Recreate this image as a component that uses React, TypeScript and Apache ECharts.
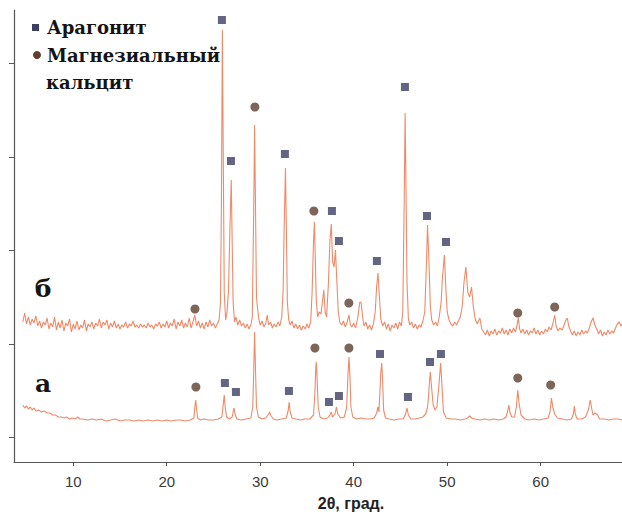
import React, { useEffect, useRef } from "react";
import * as echarts from "echarts";

// ---- data (2θ in degrees, intensity in arbitrary units) ----
const xTicks = [10, 20, 30, 40, 50, 60];
const yTicks = [25, 118, 212, 305, 399];

// pattern "б" (upper trace)
const traceB: [number, number][] = [
  [4.6, 140], [4.8, 149], [5.0, 138], [5.2, 145], [5.4, 137], [5.6, 143], [5.8, 139], [6.0, 146], [6.2, 136], [6.4, 141],
  [6.6, 134], [6.8, 140], [7.0, 137], [7.2, 144], [7.4, 133], [7.6, 139], [7.8, 135], [8.0, 145], [8.2, 132], [8.4, 140],
  [8.6, 134], [8.8, 142], [9.0, 131], [9.2, 139], [9.4, 136], [9.6, 143], [9.8, 130], [10.0, 138], [10.2, 133], [10.4, 141],
  [10.6, 132], [10.8, 137], [11.0, 134], [11.2, 142], [11.4, 131], [11.6, 138], [11.8, 135], [12.0, 140], [12.2, 133], [12.4, 139],
  [12.6, 136], [12.8, 143], [13.0, 134], [13.2, 140], [13.4, 137], [13.6, 142], [13.8, 133], [14.0, 139], [14.2, 135], [14.4, 141],
  [14.6, 134], [14.8, 138], [15.0, 133], [15.2, 137], [15.4, 135], [15.6, 140], [15.8, 134], [16.0, 138], [16.2, 136], [16.4, 141],
  [16.6, 135], [16.8, 137], [17.0, 134], [17.2, 138], [17.4, 135], [17.6, 137], [17.8, 134], [18.0, 139], [18.2, 135], [18.4, 137],
  [18.6, 133], [18.8, 138], [19.0, 136], [19.2, 140], [19.4, 134], [19.6, 138], [19.8, 135], [20.0, 141], [20.2, 134], [20.4, 139],
  [20.6, 136], [20.8, 143], [21.0, 133], [21.2, 140], [21.4, 136], [21.6, 142], [21.8, 134], [22.0, 139], [22.2, 135], [22.4, 144],
  [22.6, 134], [22.8, 140], [23.0, 147], [23.2, 136], [23.4, 141], [23.6, 134], [23.8, 139], [24.0, 133], [24.2, 140], [24.4, 135],
  [24.6, 142], [24.8, 136], [25.0, 139], [25.2, 134], [25.4, 138], [25.6, 142],
  [25.75, 160], [25.85, 260], [25.95, 432], [26.05, 300], [26.15, 170], [26.3, 142], [26.45, 150], [26.6, 170], [26.75, 230], [26.9, 282],
  [27.0, 220], [27.1, 160], [27.25, 140], [27.4, 145], [27.6, 137], [27.8, 142], [28.0, 136], [28.2, 139], [28.4, 134], [28.6, 138],
  [28.8, 133], [29.0, 137], [29.15, 145], [29.3, 250], [29.4, 337], [29.5, 250], [29.6, 165], [29.7, 155], [29.85, 143], [30.0, 137],
  [30.2, 141], [30.4, 135], [30.6, 139], [30.75, 147], [30.9, 137], [31.1, 140], [31.3, 134], [31.5, 138], [31.7, 135], [31.9, 140],
  [32.1, 136], [32.3, 145], [32.45, 172], [32.55, 230], [32.7, 294], [32.8, 230], [32.9, 160], [33.05, 142], [33.2, 137], [33.4, 141],
  [33.6, 134], [33.8, 138], [34.0, 133], [34.2, 137], [34.4, 132], [34.6, 136], [34.8, 133], [35.0, 138], [35.2, 134], [35.4, 140],
  [35.55, 170], [35.7, 220], [35.8, 240], [35.9, 200], [36.0, 160], [36.15, 145], [36.3, 150], [36.5, 148], [36.65, 160], [36.8, 172],
  [36.95, 150], [37.1, 145], [37.3, 180], [37.45, 220], [37.6, 238], [37.75, 200], [37.9, 195], [38.05, 212], [38.2, 180], [38.35, 150],
  [38.5, 140], [38.7, 137], [38.9, 141], [39.1, 135], [39.3, 140], [39.5, 147], [39.65, 137], [39.8, 135], [40.0, 139], [40.2, 134],
  [40.45, 145], [40.65, 160], [40.8, 159], [40.95, 145], [41.1, 136], [41.3, 140], [41.5, 133], [41.7, 137], [41.9, 132], [42.1, 138],
  [42.3, 150], [42.45, 175], [42.6, 189], [42.75, 165], [42.9, 143], [43.1, 136], [43.3, 140], [43.5, 133], [43.7, 138], [43.9, 131],
  [44.1, 137], [44.3, 134], [44.5, 139], [44.7, 133], [44.9, 140], [45.1, 136], [45.25, 150], [45.4, 260], [45.5, 349], [45.6, 270],
  [45.7, 180], [45.85, 143], [46.0, 137], [46.2, 140], [46.4, 134], [46.6, 138], [46.8, 133], [47.0, 137], [47.2, 135], [47.4, 141],
  [47.6, 150], [47.75, 190], [47.9, 237], [48.05, 200], [48.2, 155], [48.35, 142], [48.55, 137], [48.75, 140], [48.95, 136], [49.15, 145],
  [49.35, 160], [49.5, 185], [49.7, 207], [49.85, 175], [50.0, 150], [50.2, 142], [50.4, 138], [50.6, 136], [50.8, 140], [51.0, 137],
  [51.2, 141], [51.4, 145], [51.6, 155], [51.8, 180], [52.0, 195], [52.2, 170], [52.4, 165], [52.6, 175], [52.8, 155], [53.0, 143],
  [53.2, 138], [53.5, 144], [53.7, 133], [53.9, 130], [54.1, 127], [54.3, 132], [54.5, 126], [54.7, 131], [54.9, 128], [55.1, 133],
  [55.3, 127], [55.5, 131], [55.7, 129], [55.9, 134], [56.1, 128], [56.3, 132], [56.5, 127], [56.7, 133], [56.9, 129], [57.1, 134],
  [57.3, 130], [57.45, 136], [57.6, 144], [57.75, 133], [57.9, 129], [58.1, 133], [58.3, 128], [58.5, 132], [58.7, 127], [58.9, 131],
  [59.1, 129], [59.3, 134], [59.5, 128], [59.7, 132], [59.9, 127], [60.1, 131], [60.3, 128], [60.5, 133], [60.7, 130], [60.9, 135],
  [61.1, 132], [61.3, 138], [61.5, 147], [61.65, 136], [61.85, 131], [62.05, 134], [62.3, 132], [62.5, 137], [62.7, 142], [62.85, 144],
  [63.0, 136], [63.2, 131], [63.4, 127], [63.6, 131], [63.8, 126], [64.0, 130], [64.2, 127], [64.4, 132], [64.6, 128], [64.8, 131],
  [65.0, 129], [65.2, 134], [65.4, 140], [65.6, 144], [65.8, 137], [66.0, 133], [66.2, 128], [66.4, 132], [66.6, 126], [66.8, 130],
  [67.0, 127], [67.2, 132], [67.4, 128], [67.6, 131], [67.8, 129], [68.0, 134], [68.2, 138], [68.4, 140], [68.6, 136], [68.7, 138],
];

// pattern "а" (lower trace)
const traceA: [number, number][] = [
  [4.6, 57], [4.8, 54], [5.0, 56], [5.2, 53], [5.4, 55], [5.6, 52], [5.8, 54], [6.0, 51], [6.3, 52], [6.6, 50],
  [6.9, 51], [7.2, 49], [7.5, 49], [7.8, 47], [8.1, 47], [8.4, 45], [8.7, 45], [9.0, 44], [9.3, 45], [9.6, 43],
  [9.9, 44], [10.2, 43], [10.5, 45], [10.7, 43], [11.0, 43], [11.5, 42], [12.0, 43], [12.5, 42], [13.0, 43], [13.5, 41],
  [14.0, 42], [14.5, 43], [15.0, 41], [15.5, 42], [16.0, 42], [16.5, 41], [17.0, 42], [17.5, 41], [18.0, 42], [18.5, 41],
  [19.0, 42], [19.5, 41], [20.0, 42], [20.5, 41], [21.0, 42], [21.5, 42], [22.0, 41], [22.5, 42], [22.9, 44], [23.0, 55],
  [23.1, 62], [23.2, 52], [23.3, 44], [23.6, 42], [24.0, 43], [24.5, 42], [25.0, 42], [25.5, 43], [25.9, 45], [26.05, 58],
  [26.15, 67], [26.25, 55], [26.4, 45], [26.7, 43], [27.0, 45], [27.1, 50], [27.2, 54], [27.3, 48], [27.5, 43], [28.0, 42],
  [28.5, 43], [29.0, 44], [29.2, 55], [29.3, 90], [29.4, 130], [29.5, 90], [29.6, 55], [29.8, 45], [30.2, 43], [30.6, 44],
  [30.9, 48], [31.0, 50], [31.1, 47], [31.4, 43], [31.8, 42], [32.3, 43], [32.8, 44], [33.0, 52], [33.1, 60], [33.2, 50],
  [33.4, 44], [33.8, 43], [34.3, 42], [34.8, 43], [35.3, 43], [35.7, 47], [35.85, 70], [35.95, 95], [36.0, 100], [36.1, 80],
  [36.2, 55], [36.4, 45], [36.8, 43], [37.2, 44], [37.45, 47], [37.6, 50], [37.75, 45], [38.0, 48], [38.15, 55], [38.3, 48],
  [38.6, 44], [39.0, 45], [39.25, 55], [39.4, 90], [39.5, 105], [39.6, 85], [39.7, 55], [39.9, 45], [40.3, 43], [40.8, 44],
  [41.3, 43], [41.8, 43], [42.2, 44], [42.45, 49], [42.6, 55], [42.7, 50], [42.8, 70], [42.9, 90], [43.0, 99], [43.1, 80],
  [43.2, 52], [43.4, 44], [43.8, 43], [44.3, 42], [44.8, 43], [45.3, 43], [45.55, 48], [45.7, 54], [45.85, 47], [46.1, 43],
  [46.6, 43], [47.0, 44], [47.4, 45], [47.7, 48], [47.9, 55], [48.0, 65], [48.1, 80], [48.2, 90], [48.3, 78], [48.5, 57],
  [48.7, 52], [48.9, 55], [49.1, 75], [49.3, 99], [49.45, 75], [49.6, 50], [49.9, 44], [50.4, 43], [50.9, 43], [51.4, 42],
  [51.9, 43], [52.2, 44], [52.4, 46], [52.6, 44], [53.0, 43], [53.5, 42], [54.0, 43], [54.5, 42], [55.0, 43], [55.5, 42],
  [56.0, 43], [56.3, 45], [56.5, 52], [56.6, 57], [56.7, 50], [56.9, 45], [57.2, 45], [57.4, 55], [57.55, 72], [57.7, 58],
  [57.9, 47], [58.3, 43], [58.8, 42], [59.3, 43], [59.8, 42], [60.3, 43], [60.8, 44], [61.0, 50], [61.15, 64], [61.3, 55],
  [61.5, 48], [61.8, 44], [62.3, 43], [62.8, 42], [63.3, 43], [63.5, 48], [63.6, 56], [63.7, 48], [63.9, 43], [64.4, 43],
  [64.8, 45], [65.1, 52], [65.3, 62], [65.45, 54], [65.6, 47], [65.8, 49], [66.1, 47], [66.3, 43], [66.8, 43], [67.3, 42],
  [67.8, 43], [68.3, 43], [68.7, 42],
];

// phase markers placed above the reflections
const aragoniteMarks: [number, number][] = [
  [25.9, 442], [26.87, 301], [32.64, 308], [37.67, 251], [38.42, 221], [42.48, 201], [45.48, 375], [47.84, 246], [49.87, 220],
  [26.22, 79], [27.4, 70], [33.07, 71], [37.35, 60], [38.42, 66], [42.81, 108], [45.8, 65], [48.16, 100], [49.33, 108],
];
const calciteMarks: [number, number][] = [
  [23.02, 153], [29.43, 355], [35.74, 251], [39.48, 159], [57.55, 149], [61.5, 155],
  [23.12, 75], [35.85, 114], [39.49, 114], [57.55, 84], [61.07, 77],
];

const legendNames = ["Арагонит", "Магнезиальный", "кальцит"];
const traceLabels = ["а", "б"];
const xAxisTitle = "2θ, град.";

const LINE = "#ef8a68";
const SQUARE = "#3c3e63";
const CIRCLE = "#5e3f31";
const SERIF = "DejaVu Serif, serif";
const SANS = "Liberation Sans, Arial, sans-serif";

const serifText = (text: string, x: number, y: number, size: number, align = "left") => ({
  type: "text",
  x,
  y,
  style: {
    text,
    fontFamily: SERIF,
    fontWeight: "bold",
    fontSize: size,
    fill: "#141414",
    textAlign: align,
    textVerticalAlign: "middle",
  },
});

export default function App() {
  const ref = useRef<HTMLDivElement>(null);
  useEffect(() => {
    if (!ref.current) return;
    const chart = echarts.init(ref.current, null, { renderer: "svg" });
    chart.setOption({
      animation: false,
      backgroundColor: "#ffffff",
      grid: { left: 14, right: 0, top: 10, bottom: 53, containLabel: false },
      xAxis: {
        type: "value",
        min: 3.66,
        max: 68.7,
        axisLine: { show: true, onZero: false, lineStyle: { color: "#555", width: 1.2 } },
        axisTick: { show: true, customValues: xTicks, length: 4, lineStyle: { color: "#555" } },
        axisLabel: { show: true, customValues: xTicks, fontSize: 15, margin: 12, color: "#3a3a3a", fontFamily: SANS },
        splitLine: { show: false },
      },
      yAxis: {
        type: "value",
        min: 0,
        max: 452,
        axisLine: { show: true, onZero: false, lineStyle: { color: "#555", width: 1.2 } },
        axisTick: { show: true, customValues: yTicks, length: 5, lineStyle: { color: "#555" } },
        axisLabel: { show: false },
        splitLine: { show: false },
      },
      series: [
        { type: "line", data: traceA, showSymbol: false, lineStyle: { color: LINE, width: 1.1 }, z: 2 },
        { type: "line", data: traceB, showSymbol: false, lineStyle: { color: LINE, width: 1.1 }, z: 2 },
        { type: "scatter", data: aragoniteMarks, symbol: "rect", symbolSize: 8, itemStyle: { color: SQUARE }, z: 3 },
        { type: "scatter", data: calciteMarks, symbol: "circle", symbolSize: 9, itemStyle: { color: CIRCLE }, z: 3 },
      ],
      graphic: [
        { type: "rect", shape: { x: 32, y: 24, width: 7, height: 7 }, style: { fill: SQUARE } },
        { type: "circle", shape: { cx: 37, cy: 55, r: 4 }, style: { fill: CIRCLE } },
        serifText(legendNames[0], 47, 27, 18),
        serifText(legendNames[1], 47, 55, 18),
        serifText(legendNames[2], 46, 82, 18),
        serifText(traceLabels[0], 43, 383, 25, "center"),
        serifText(traceLabels[1], 43, 288, 25, "center"),
        {
          type: "text",
          x: 351,
          y: 503,
          style: { text: xAxisTitle, fontFamily: SANS, fontWeight: "bold", fontSize: 16, fill: "#222", textAlign: "center", textVerticalAlign: "middle" },
        },
      ],
    });
    return () => chart.dispose();
  }, []);
  return <div ref={ref} style={{ position: "fixed", left: 0, top: 0, width: 622, height: 515 }} />;
}
